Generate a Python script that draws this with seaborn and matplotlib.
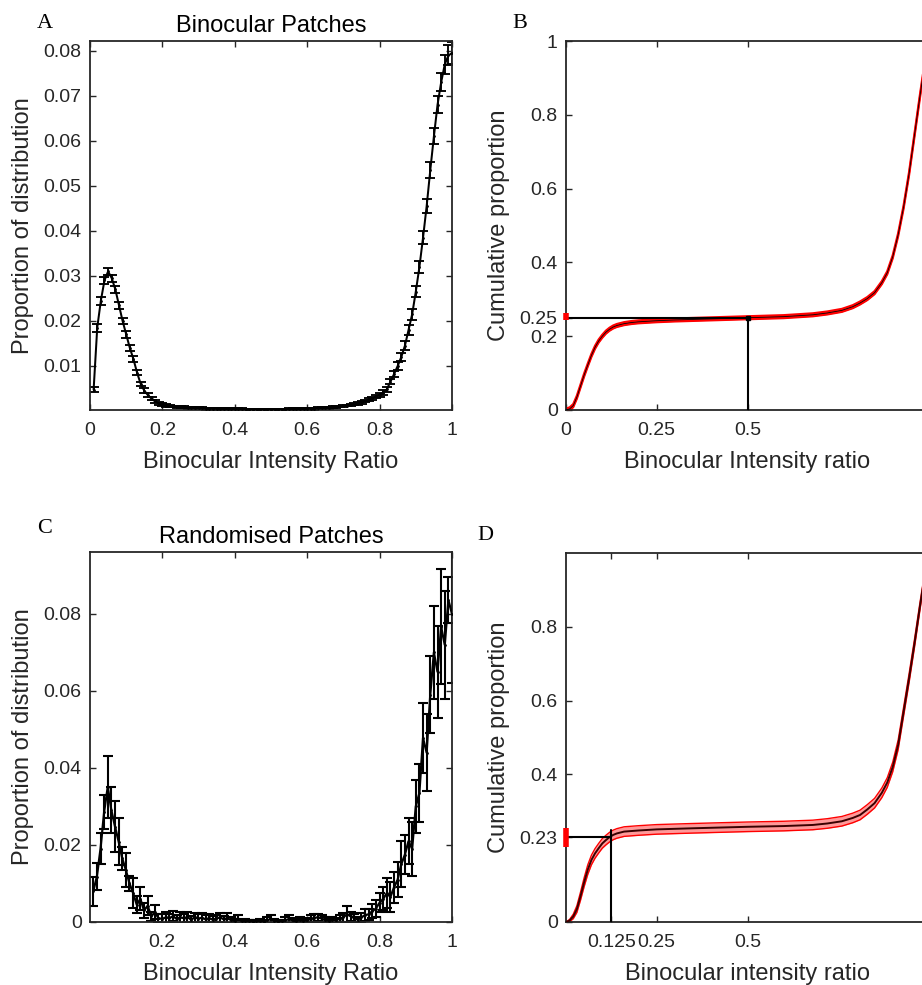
import numpy as np
import matplotlib
matplotlib.use("Agg")
import matplotlib.pyplot as plt
import seaborn as sns

sns.set_style("ticks")
plt.rcParams['font.family'] = ['Liberation Sans', 'DejaVu Sans']

INK = '#262626'

# histogram bins (ratio), shared by panels A and C
ratio_bins = np.round(np.arange(1, 101) / 100, 2)

# panel A - binocular patches
binoc_prop = [
    0.0047, 0.0185, 0.0245, 0.0290, 0.0310, 0.0295, 0.0270, 0.0235, 0.0200, 0.0170,
    0.0140, 0.0115, 0.0085, 0.0060, 0.0045, 0.0035, 0.0027, 0.0021, 0.0017, 0.0014,
    0.0012, 0.0011, 0.0010, 0.0009, 0.0008, 0.0008, 0.0007, 0.0007, 0.0006, 0.0006,
    0.0006, 0.0005, 0.0005, 0.0005, 0.0005, 0.0005, 0.0004, 0.0004, 0.0004, 0.0004,
    0.0004, 0.0004, 0.0003, 0.0003, 0.0003, 0.0003, 0.0003, 0.0003, 0.0003, 0.0003,
    0.0003, 0.0003, 0.0003, 0.0003, 0.0004, 0.0004, 0.0004, 0.0004, 0.0004, 0.0005,
    0.0005, 0.0005, 0.0006, 0.0006, 0.0007, 0.0007, 0.0008, 0.0009, 0.0010, 0.0011,
    0.0012, 0.0013, 0.0015, 0.0017, 0.0019, 0.0022, 0.0025, 0.0028, 0.0032, 0.0036,
    0.0041, 0.0048, 0.0065, 0.0082, 0.0100, 0.0120, 0.0145, 0.0180, 0.0215, 0.0265,
    0.0320, 0.0385, 0.0455, 0.0535, 0.0610, 0.0680, 0.0730, 0.0770, 0.0790, 0.0795,
]
binoc_err = [
    0.0006, 0.0009, 0.0009, 0.0008, 0.0008, 0.0008, 0.0008, 0.0008, 0.0007, 0.0007,
    0.0007, 0.0006, 0.0006, 0.0005, 0.0005, 0.0004, 0.0003, 0.0003, 0.0003, 0.0003,
    0.0003, 0.0003, 0.0002, 0.0002, 0.0002, 0.0002, 0.0002, 0.0002, 0.0002, 0.0002,
    0.0002, 0.0002, 0.0002, 0.0002, 0.0002, 0.0002, 0.0002, 0.0002, 0.0002, 0.0002,
    0.0002, 0.0002, 0.0002, 0.0002, 0.0002, 0.0002, 0.0002, 0.0002, 0.0002, 0.0002,
    0.0002, 0.0002, 0.0002, 0.0002, 0.0002, 0.0002, 0.0002, 0.0002, 0.0002, 0.0002,
    0.0002, 0.0002, 0.0002, 0.0002, 0.0002, 0.0002, 0.0002, 0.0002, 0.0002, 0.0002,
    0.0002, 0.0002, 0.0002, 0.0003, 0.0003, 0.0003, 0.0003, 0.0004, 0.0004, 0.0004,
    0.0005, 0.0005, 0.0006, 0.0007, 0.0008, 0.0009, 0.0010, 0.0011, 0.0012, 0.0013,
    0.0014, 0.0015, 0.0016, 0.0017, 0.0018, 0.0019, 0.0020, 0.0021, 0.0022, 0.0025,
]

# panel C - randomised patches
rand_prop = [
    0.0080, 0.0118, 0.0190, 0.0286, 0.0351, 0.0290, 0.0248, 0.0209, 0.0165, 0.0135,
    0.0100, 0.0075, 0.0045, 0.0060, 0.0030, 0.0042, 0.0015, 0.0025, 0.0010, 0.0008,
    0.0012, 0.0010, 0.0015, 0.0008, 0.0012, 0.0010, 0.0013, 0.0006, 0.0012, 0.0009,
    0.0011, 0.0007, 0.0010, 0.0006, 0.0009, 0.0012, 0.0007, 0.0010, 0.0005, 0.0003,
    0.0008, 0.0002, 0.0003, 0.0002, 0.0001, 0.0002, 0.0003, 0.0001, 0.0005, 0.0007,
    0.0003, 0.0001, 0.0002, 0.0004, 0.0008, 0.0004, 0.0002, 0.0005, 0.0003, 0.0004,
    0.0008, 0.0011, 0.0012, 0.0009, 0.0005, 0.0003, 0.0006, 0.0004, 0.0009, 0.0012,
    0.0020, 0.0015, 0.0010, 0.0006, 0.0012, 0.0018, 0.0020, 0.0028, 0.0035, 0.0050,
    0.0060, 0.0075, 0.0065, 0.0090, 0.0110, 0.0150, 0.0175, 0.0210, 0.0190, 0.0300,
    0.0335, 0.0478, 0.0440, 0.0590, 0.0700, 0.0650, 0.0767, 0.0720, 0.0836, 0.0800,
]
rand_err = [
    0.0038, 0.0035, 0.0040, 0.0045, 0.0080, 0.0060, 0.0065, 0.0060, 0.0030, 0.0045,
    0.0020, 0.0038, 0.0022, 0.0030, 0.0020, 0.0025, 0.0012, 0.0018, 0.0010, 0.0012,
    0.0015, 0.0012, 0.0013, 0.0010, 0.0014, 0.0012, 0.0012, 0.0009, 0.0012, 0.0011,
    0.0012, 0.0010, 0.0011, 0.0009, 0.0010, 0.0011, 0.0009, 0.0013, 0.0008, 0.0006,
    0.0009, 0.0004, 0.0005, 0.0004, 0.0003, 0.0004, 0.0005, 0.0003, 0.0009, 0.0011,
    0.0005, 0.0003, 0.0004, 0.0008, 0.0010, 0.0007, 0.0004, 0.0008, 0.0006, 0.0007,
    0.0009, 0.0010, 0.0010, 0.0010, 0.0008, 0.0006, 0.0008, 0.0007, 0.0010, 0.0012,
    0.0022, 0.0012, 0.0010, 0.0008, 0.0012, 0.0015, 0.0015, 0.0018, 0.0022, 0.0025,
    0.0030, 0.0038, 0.0040, 0.0040, 0.0045, 0.0060, 0.0050, 0.0060, 0.0070, 0.0070,
    0.0075, 0.0090, 0.0100, 0.0100, 0.0120, 0.0120, 0.0150, 0.0140, 0.0060, 0.0180,
]

# panel B - cumulative, binocular
cum_b_x = [0, 0.01, 0.02, 0.03, 0.04, 0.05, 0.06, 0.07, 0.08, 0.09, 0.10, 0.11, 0.12,
           0.13, 0.14, 0.16, 0.18, 0.20, 0.25, 0.30, 0.40, 0.50, 0.60, 0.68, 0.72, 0.76,
           0.79, 0.81, 0.83, 0.85, 0.87, 0.885, 0.90, 0.915, 0.93, 0.945, 0.96, 0.975,
           0.99, 1.0]
cum_b_y = [0, 0.003, 0.012, 0.035, 0.065, 0.095, 0.122, 0.148, 0.170, 0.187, 0.200,
           0.211, 0.219, 0.225, 0.229, 0.234, 0.237, 0.239, 0.242, 0.244, 0.247, 0.250,
           0.253, 0.258, 0.263, 0.270, 0.280, 0.290, 0.302, 0.318, 0.345, 0.372, 0.415,
           0.475, 0.550, 0.640, 0.745, 0.850, 0.950, 1.0]
cum_b_ci = 0.004

# panel D - cumulative, randomised
cum_d_x = [0, 0.01, 0.02, 0.03, 0.04, 0.05, 0.06, 0.07, 0.08, 0.09, 0.10, 0.11, 0.12,
           0.13, 0.14, 0.16, 0.20, 0.25, 0.35, 0.50, 0.60, 0.68, 0.72, 0.76, 0.79, 0.81,
           0.83, 0.85, 0.87, 0.885, 0.90, 0.915, 0.93, 0.945, 0.96, 0.975, 0.99, 1.0]
cum_d_y = [0, 0.004, 0.015, 0.035, 0.070, 0.108, 0.142, 0.168, 0.186, 0.200, 0.213,
           0.222, 0.230, 0.236, 0.240, 0.245, 0.248, 0.251, 0.254, 0.258, 0.260, 0.263,
           0.267, 0.273, 0.282, 0.290, 0.305, 0.322, 0.350, 0.378, 0.420, 0.480, 0.570,
           0.660, 0.755, 0.855, 0.950, 1.0]
cum_d_ci = [0, 0.003, 0.006, 0.009, 0.011, 0.012, 0.013, 0.013, 0.013, 0.013, 0.013,
            0.013, 0.013, 0.013, 0.013, 0.013, 0.013, 0.013, 0.013, 0.013, 0.013, 0.013,
            0.013, 0.013, 0.013, 0.013, 0.013, 0.013, 0.013, 0.013, 0.013, 0.013, 0.012,
            0.012, 0.011, 0.010, 0.008, 0.006]

# read-off markers (x, y, red range on the y axis)
mark_b = (0.5, 0.25, 0.243, 0.262)
mark_d = (0.125, 0.23, 0.204, 0.254)

W, H = 922, 985
fig = plt.figure(figsize=(W / 100, H / 100), dpi=100)


def px_axes(left, top, right, bottom):
    return fig.add_axes([left / W, 1 - bottom / H, (right - left) / W, (bottom - top) / H])


def style(ax, xlabel, ylabel):
    for s in ax.spines.values():
        s.set_color(INK)
        s.set_linewidth(1.3)
    ax.tick_params(direction='in', length=4, width=1, top=True, right=True,
                   colors=INK, labelsize=14)
    ax.tick_params(axis='x', pad=8.5)
    ax.tick_params(axis='y', pad=6)
    ax.set_xlabel(xlabel, fontsize=17, color=INK, va='center')
    ax.set_ylabel(ylabel, fontsize=17, color=INK, va='center')
    h = ax.get_position().height * H
    w = ax.get_position().width * W
    ax.xaxis.set_label_coords(0.5, -52 / h)
    ax.yaxis.set_label_coords(-67 / w, 0.5)


def ticks(ax, xt, yt):
    ax.set_xticks(xt)
    ax.set_xticklabels([f"{v:g}" for v in xt])
    ax.set_yticks(yt)
    ax.set_yticklabels([f"{v:g}" for v in yt])


def hist_panel(ax, y, err, lw):
    ax.errorbar(ratio_bins, y, yerr=err, fmt='none', ecolor='k', elinewidth=lw,
                capsize=3.3, capthick=lw, zorder=2)
    sns.lineplot(x=ratio_bins, y=y, ax=ax, color='k', lw=lw + 0.1, marker='.',
                 markersize=4, markeredgewidth=0, zorder=3)


def cum_panel(ax, x, y, ci, band_alpha, line_col, line_w, edge_w, mark):
    lo = np.array(y) - np.array(ci)
    hi = np.array(y) + np.array(ci)
    ax.fill_between(x, lo, hi, color='red', alpha=band_alpha, lw=0, zorder=2)
    ax.plot(x, lo, color='red', lw=edge_w, zorder=2)
    ax.plot(x, hi, color='red', lw=edge_w, zorder=2)
    sns.lineplot(x=x, y=y, ax=ax, color=line_col, lw=line_w, sort=False, zorder=3)
    mx, my, r0, r1 = mark
    ax.plot([0, mx], [my, my], color='k', lw=1.5, zorder=4)
    ax.plot([mx, mx], [0, my + (0.02 if mx < 0.2 else 0)], color='k', lw=1.5, zorder=4)
    ax.plot([0, 0], [r0, r1], color='red', lw=4, solid_capstyle='butt',
            clip_on=False, zorder=5)


# A
axA = px_axes(90, 41, 452, 410)
hist_panel(axA, binoc_prop, binoc_err, 1.35)
axA.set_xlim(0, 1)
axA.set_ylim(0.0002, 0.0822)
ticks(axA, [0, 0.2, 0.4, 0.6, 0.8, 1], [0.01, 0.02, 0.03, 0.04, 0.05, 0.06, 0.07, 0.08])
style(axA, 'Binocular Intensity Ratio', 'Proportion of distribution')
axA.set_title('Binocular Patches', fontsize=17, color='k', pad=6.5)

# B
axB = px_axes(566, 41, 929, 410)
cum_panel(axB, cum_b_x, cum_b_y, cum_b_ci, 0.9, 'k', 0.6, 1.6, mark_b)
axB.plot([mark_b[0]], [mark_b[1]], 's', color='k', markersize=3, zorder=5)
axB.set_xlim(0, 1)
axB.set_ylim(0, 1)
ticks(axB, [0, 0.25, 0.5], [0, 0.2, 0.25, 0.4, 0.6, 0.8, 1])
style(axB, 'Binocular Intensity ratio', 'Cumulative proportion')

# C
axC = px_axes(90, 552, 452, 922)
hist_panel(axC, rand_prop, rand_err, 1.5)
axC.set_xlim(0.001, 1)
axC.set_ylim(0, 0.0961)
ticks(axC, [0.2, 0.4, 0.6, 0.8, 1], [0, 0.02, 0.04, 0.06, 0.08])
style(axC, 'Binocular Intensity Ratio', 'Proportion of distribution')
axC.set_title('Randomised Patches', fontsize=17, color='k', pad=6.5)

# D
axD = px_axes(566, 553, 929, 922)
cum_panel(axD, cum_d_x, cum_d_y, cum_d_ci, 0.4, '#3a0000', 1.4, 1.0, mark_d)
axD.set_xlim(0, 1)
axD.set_ylim(0, 1)
ticks(axD, [0.125, 0.25, 0.5], [0, 0.23, 0.4, 0.6, 0.8])
style(axD, 'Binocular intensity ratio', 'Cumulative proportion')

# panel letters
for letter, x, y in [('A', 37, 28), ('B', 512, 28), ('C', 37, 533), ('D', 477, 540)]:
    fig.text(x / W, 1 - y / H, letter, fontsize=16, family=['Liberation Serif', 'DejaVu Serif'],
             va='baseline', ha='left', color='k')

fig.savefig('out.png', dpi=100)
